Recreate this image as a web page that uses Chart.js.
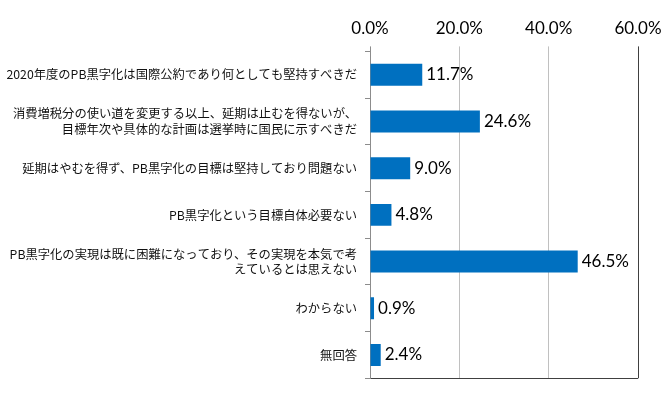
<!DOCTYPE html>
<html>
<head>
<meta charset="utf-8">
<script src="https://cdn.jsdelivr.net/npm/chart.js@4"></script>
<style>
  html, body { margin: 0; padding: 0; background: #fff; }
  #wrap { width: 670px; height: 394px; }
</style>
</head>
<body>
<div id="wrap"><canvas id="chart"></canvas></div>
<script>
// answer options (multi-line ones as arrays)
const categories = [
  '2020年度のPB黒字化は国際公約であり何としても堅持すべきだ',
  ['消費増税分の使い道を変更する以上、延期は止むを得ないが、', '目標年次や具体的な計画は選挙時に国民に示すべきだ'],
  '延期はやむを得ず、PB黒字化の目標は堅持しており問題ない',
  'PB黒字化という目標自体必要ない',
  ['PB黒字化の実現は既に困難になっており、その実現を本気で考', 'えているとは思えない'],
  'わからない',
  '無回答'
];
// percent of respondents
const values = [11.7, 24.6, 9.0, 4.8, 46.5, 0.9, 2.4];
const xTickValues = [0, 20, 40, 60];

// draw "11.7%" style labels right of each bar
const valueLabels = {
  id: 'valueLabels',
  afterDatasetsDraw(chart) {
    const ctx = chart.ctx;
    const meta = chart.getDatasetMeta(0);
    ctx.save();
    ctx.font = '17px Lato';
    ctx.fillStyle = '#000';
    ctx.textAlign = 'left';
    ctx.textBaseline = 'middle';
    meta.data.forEach((bar, i) => {
      ctx.fillText(values[i].toFixed(1) + '%', bar.x + 4, bar.y);
    });
    ctx.restore();
  }
};

const config = {
  type: 'bar',
  data: {
    labels: categories,
    datasets: [{
      data: values,
      backgroundColor: '#0070C0',
      borderWidth: 0,
      barPercentage: 0.47,
      categoryPercentage: 1.0
    }]
  },
  options: {
    indexAxis: 'y',
    responsive: false,
    animation: false,
    layout: {
      padding: { top: 10, right: 32, bottom: 11, left: 0 }
    },
    plugins: {
      legend: { display: false },
      tooltip: { enabled: false }
    },
    scales: {
      x: {
        position: 'top',
        min: xTickValues[0],
        max: xTickValues[xTickValues.length - 1],
        afterBuildTicks: (scale) => {
          scale.ticks = xTickValues.map(v => ({ value: v }));
        },
        border: { display: false },
        grid: {
          color: (c) => {
            if (c.tick && c.tick.value === 0) return '#8c8c8c';
            if (c.tick && c.tick.value === 60) return '#404040';
            return '#c0c0c0';
          },
          lineWidth: 1,
          tickLength: 5
        },
        ticks: {
          padding: 8,
          color: '#000',
          font: { family: 'Lato', size: 17 },
          callback: (v) => Number(v).toFixed(1) + '%'
        }
      },
      y: {
        afterFit: (scale) => { scale.width = 370; },
        border: { display: true, color: '#8c8c8c' },
        grid: {
          offset: true,
          drawOnChartArea: true,
          // only the bottom boundary line is drawn across the plot
          color: (c) => c.type === 'tick' ? 'rgba(0,0,0,0)' : '#404040',
          tickColor: '#8c8c8c',
          tickLength: 5
        },
        ticks: {
          padding: 8,
          color: '#111',
          font: { family: '"Noto Sans CJK JP"', size: 12.3, lineHeight: 1.25 }
        }
      }
    }
  },
  plugins: [valueLabels]
};

const canvas = document.getElementById('chart');
canvas.width = 670;
canvas.height = 394;
new Chart(canvas.getContext('2d'), config);
</script>
</body>
</html>
